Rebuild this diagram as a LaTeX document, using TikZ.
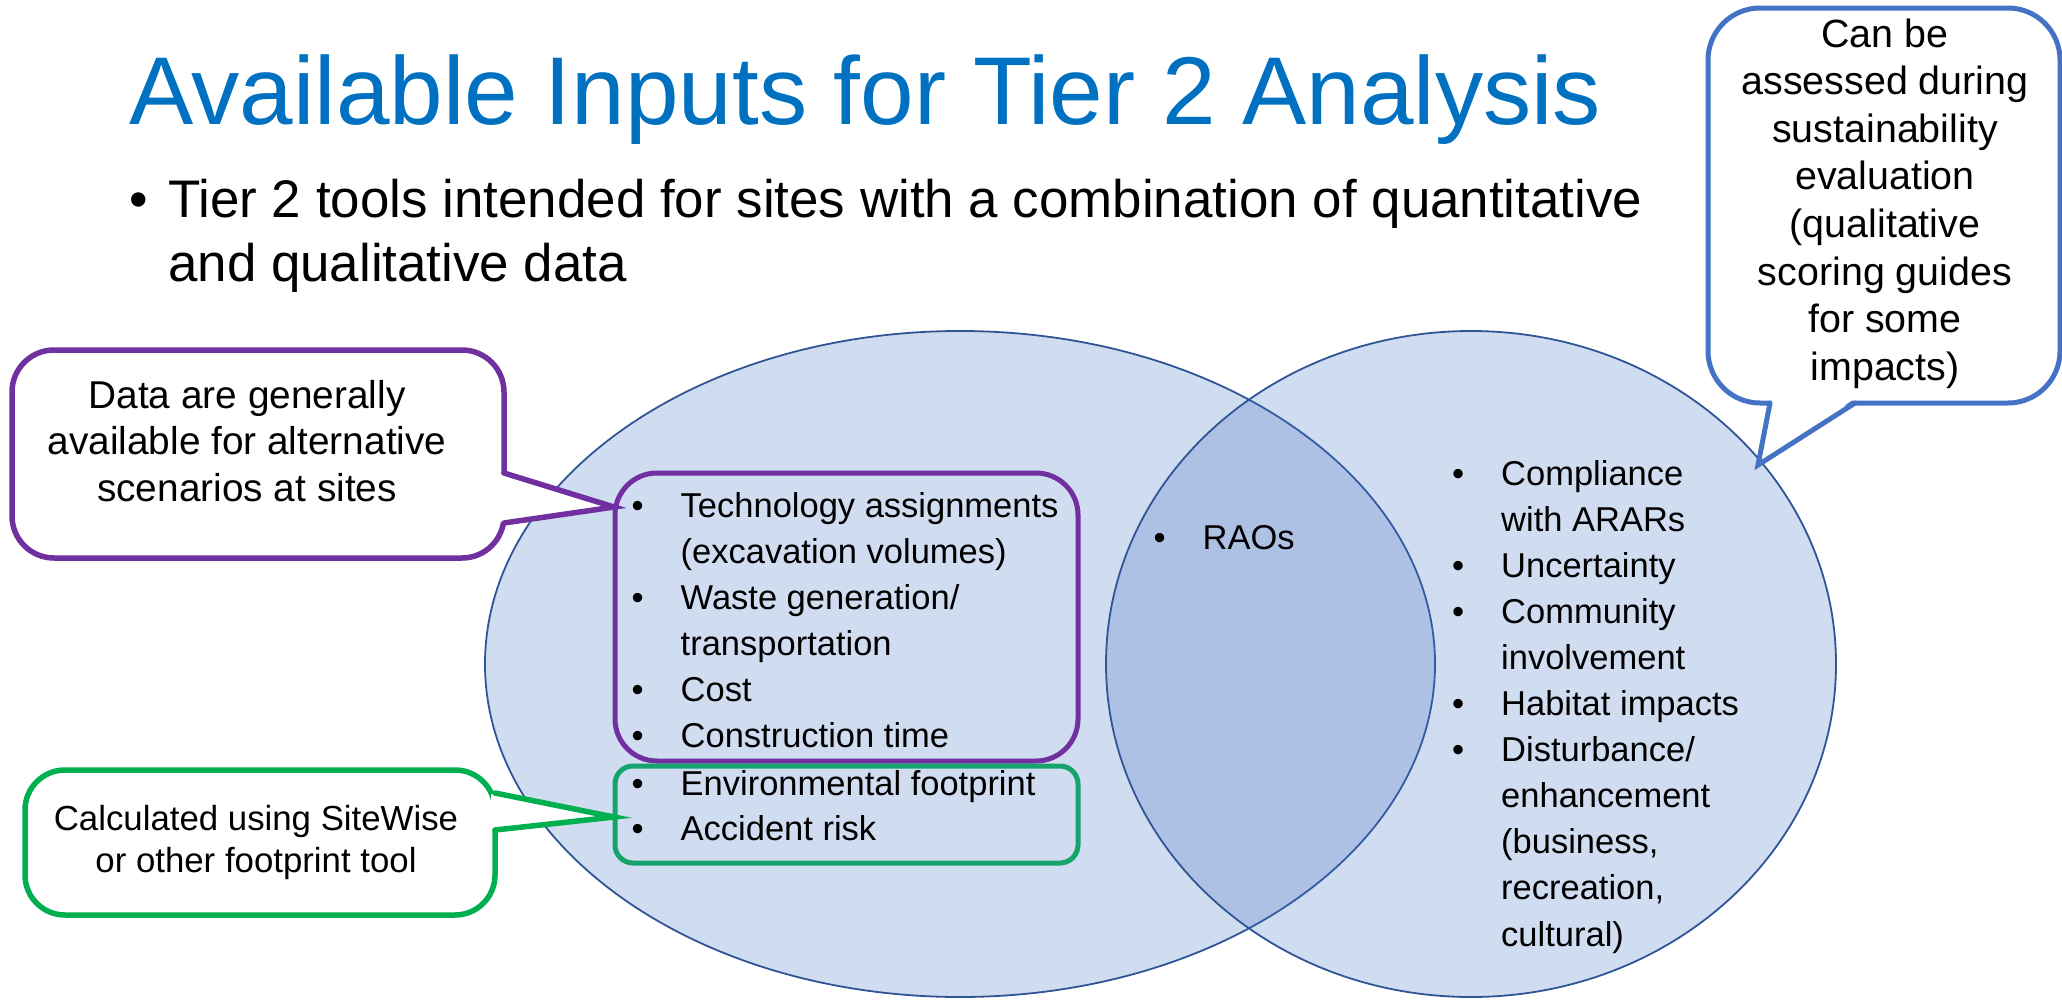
\documentclass[tikz,border=0pt]{standalone}
\usepackage{fontspec}
\setmainfont{Liberation Sans}
\usetikzlibrary{calc}

\definecolor{titleblue}{RGB}{0,112,192}
\definecolor{calloutpurple}{RGB}{112,48,160}
\definecolor{calloutgreen}{RGB}{0,176,80}
\definecolor{boxgreen}{RGB}{22,163,108}
\definecolor{calloutblue}{RGB}{68,114,196}
\definecolor{vennfill}{RGB}{68,114,196}
\definecolor{vennline}{RGB}{47,85,151}

% bullet followed by a fixed indent, and the matching indent for wrapped lines
\newcommand{\bul}{\makebox[49pt][l]{\textbullet}}
\newcommand{\cont}{\hspace*{49pt}}

\begin{document}
\begin{tikzpicture}[x=1pt,y=-1pt,
  venn/.style={fill=vennfill, fill opacity=0.25, draw=vennline, draw opacity=1, line width=1.8pt},
  callout/.style={draw, fill=white, line width=5.5pt, outer sep=0pt, inner sep=0pt, rectangle},
  groupbox/.style={draw, line width=5pt, outer sep=0pt, inner sep=0pt, rectangle},
  pointer/.style={line width=5.5pt, line join=miter, line cap=round},
  listtext/.style={anchor=base west, inner sep=0pt, font=\fontsize{34.5}{46}\selectfont},
  callouttext/.style={anchor=base, inner sep=0pt},
]
\useasboundingbox (0,0) rectangle (2062,999);

% heading and introductory bullet
\node[anchor=base west, inner sep=0pt, text=titleblue, font=\fontsize{96.3}{115}\selectfont]
  (title) at (129,124) {Available Inputs for Tier 2 Analysis};
\node[anchor=base west, inner sep=0pt, font=\fontsize{52.9}{64}\selectfont] (intro) at (129,217)
  {\begin{tabular}[t]{@{}l@{}}
   \makebox[39pt][l]{\textbullet}Tier 2 tools intended for sites with a combination of quantitative\\
   \hspace*{39pt}and qualitative data
   \end{tabular}};

% the two overlapping sets
\draw[venn] (960,664) ellipse [x radius=475pt, y radius=333pt];
\draw[venn] (1471,664) ellipse [x radius=365pt, y radius=333pt];

% groups inside the left set
\node[groupbox, draw=calloutpurple, rounded corners=42pt, minimum width=463pt, minimum height=288pt]
  (techBox) at (846.5,617) {};
\node[groupbox, draw=boxgreen, rounded corners=18pt, minimum width=463pt, minimum height=97pt]
  (footBox) at (846.5,814.5) {};

\node[listtext] (techList) at (631.5,517)
  {\begin{tabular}[t]{@{}l@{}}
   \bul Technology assignments\\
   \cont(excavation volumes)\\
   \bul Waste generation/\\
   \cont transportation\\
   \bul Cost\\
   \bul Construction time
   \end{tabular}};
\node[listtext, font=\fontsize{34.5}{45}\selectfont] (footList) at (631.5,795)
  {\begin{tabular}[t]{@{}l@{}}
   \bul Environmental footprint\\
   \bul Accident risk
   \end{tabular}};

% overlap
\node[listtext] (raoList) at (1153.5,549) {\bul RAOs};

% right set
\node[listtext, font=\fontsize{34.5}{46.1}\selectfont] (qualList) at (1452,485)
  {\begin{tabular}[t]{@{}l@{}}
   \bul Compliance\\
   \cont with ARARs\\
   \bul Uncertainty\\
   \bul Community\\
   \cont involvement\\
   \bul Habitat impacts\\
   \bul Disturbance/\\
   \cont enhancement\\
   \cont(business,\\
   \cont recreation,\\
   \cont cultural)
   \end{tabular}};

% callout: data availability
\node[callout, draw=calloutpurple, rounded corners=42pt, minimum width=492pt, minimum height=208pt]
  (dataBox) at (258,454) {};
\coordinate (dataTip) at (614,507);
\path ($(dataBox.east)+(0,19)$) coordinate (dataB1) ($(dataBox.east)+(0,69)$) coordinate (dataB2);
\fill[white] ($(dataB1)+(-4,1)$) -- (dataTip) -- ($(dataB2)+(-4,-1)$) -- cycle;
\draw[pointer, calloutpurple] (dataB1) -- (dataTip) -- (dataB2);
\node[callouttext, font=\fontsize{38.8}{46.7}\selectfont] (dataText) at (247,408)
  {\begin{tabular}[t]{@{}c@{}}Data are generally\\available for alternative\\scenarios at sites\end{tabular}};

% callout: footprint tool
\node[callout, draw=calloutgreen, rounded corners=40pt, minimum width=470pt, minimum height=145pt]
  (toolBox) at (260,842.5) {};
\coordinate (toolTip) at (614,817);
\path ($(toolBox.east)+(0,-49.5)$) coordinate (toolB1) ($(toolBox.east)+(0,-12.5)$) coordinate (toolB2);
\fill[white] ($(toolB1)+(-4,1)$) -- (toolTip) -- ($(toolB2)+(-4,-1)$) -- cycle;
\draw[pointer, calloutgreen] (toolB1) -- (toolTip) -- (toolB2);
\node[callouttext, font=\fontsize{34.8}{42}\selectfont] (toolText) at (256,830)
  {\begin{tabular}[t]{@{}c@{}}Calculated using SiteWise\\or other footprint tool\end{tabular}};

% callout: sustainability evaluation
\node[callout, draw=calloutblue, line width=5pt, rounded corners=52pt, minimum width=352pt, minimum height=395pt]
  (evalBox) at (1884,205.5) {};
\coordinate (evalTip) at (1758,465);
\path ($(evalBox.south)+(-114,0)$) coordinate (evalB1) ($(evalBox.south)+(-29,0)$) coordinate (evalB2);
\fill[white] ($(evalB1)+(1,-4)$) -- (evalTip) -- ($(evalB2)+(-1,-4)$) -- cycle;
\draw[pointer, line width=5pt, calloutblue] (evalB1) -- (evalTip) -- (evalB2);
\node[callouttext, font=\fontsize{39.4}{47.6}\selectfont] (evalText) at (1885,47)
  {\begin{tabular}[t]{@{}c@{}}Can be\\assessed during\\sustainability\\evaluation\\(qualitative\\scoring guides\\for some\\impacts)\end{tabular}};

\end{tikzpicture}
\end{document}
